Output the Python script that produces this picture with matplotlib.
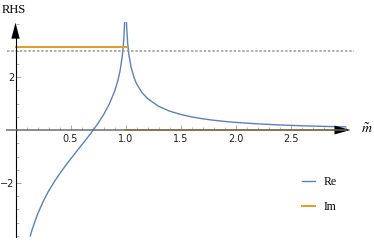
import matplotlib
matplotlib.use("Agg")
import matplotlib.pyplot as plt
from matplotlib.ticker import FixedLocator, MultipleLocator

# Werte
m_below = [0.134, 0.15, 0.2, 0.25, 0.3, 0.35, 0.4, 0.45, 0.5, 0.55, 0.6, 0.65, 0.7,
           0.75, 0.8, 0.85, 0.9, 0.93, 0.95, 0.97, 0.98, 0.985, 0.99, 0.9914]
re_below = [-4.0, -3.77, -3.18, -2.71, -2.31, -1.97, -1.66, -1.37, -1.10, -0.835, -0.575,
            -0.31, -0.04, 0.25, 0.575, 0.957, 1.45, 1.857, 2.225, 2.768, 3.19, 3.48, 3.90, 4.05]
m_above = [1.0088, 1.01, 1.02, 1.03, 1.05, 1.08, 1.1, 1.15, 1.2, 1.3, 1.4, 1.5, 1.6, 1.7,
           1.8, 1.9, 2.0, 2.2, 2.4, 2.6, 2.8, 3.0]
re_above = [4.05, 3.93, 3.25, 2.86, 2.38, 1.95, 1.75, 1.41, 1.19, 0.896, 0.714, 0.588, 0.495,
            0.425, 0.369, 0.324, 0.288, 0.232, 0.191, 0.160, 0.137, 0.118]
im_x1 = [0.0, 1.0]
im_y1 = [3.14, 3.14]
im_x2 = [1.0, 3.0]
im_y2 = [0.0, 0.0]
dashed_level = 2.98
xticks = [0.5, 1.0, 1.5, 2.0, 2.5]
yticks = [-2, 2]

blue = "#5E81B5"
orange = "#E19C24"

fig = plt.figure(figsize=(3.74, 2.44), dpi=100)
ax = fig.add_axes([0, 0, 1, 1])
ax.set_xlim(-0.141, 3.259)
ax.set_ylim(-4.302, 4.906)
ax.patch.set_visible(False)

# Kurven
ax.plot(m_below, re_below, color=blue, lw=1.0, label="Re")
ax.plot(m_above, re_above, color=blue, lw=1.0)
ax.plot(im_x1, im_y1, color=orange, lw=1.4, label="Im")
ax.plot(im_x2, im_y2, color=orange, lw=1.4)
ax.plot([-0.075, 3.08], [dashed_level, dashed_level], color="#999999", lw=1.1,
        dashes=(1.6, 1.2))

# Achsen im Mathematica-Stil
for s in ["top", "right"]:
    ax.spines[s].set_visible(False)
ax.spines["bottom"].set_position(("data", 0))
ax.spines["left"].set_position(("data", 0))
ax.spines["bottom"].set_bounds(-0.075, 3.0)
ax.spines["left"].set_bounds(-4.05, 3.5)
ax.spines["bottom"].set_color("#666666")
ax.spines["bottom"].set_alpha(0.75)
ax.spines["bottom"].set_linewidth(1.4)
ax.spines["left"].set_color("black")
ax.spines["left"].set_linewidth(0.8)
ax.spines["bottom"].set_zorder(3)

ax.xaxis.set_major_locator(FixedLocator(xticks))
ax.xaxis.set_minor_locator(FixedLocator([i / 10 for i in range(1, 31)]))
ax.yaxis.set_major_locator(FixedLocator(yticks))
ax.yaxis.set_minor_locator(MultipleLocator(0.5))
ax.tick_params(axis="both", which="major", direction="in", length=3.5, width=0.6,
               color="#999999", labelsize=7, labelcolor="#222222")
ax.tick_params(axis="both", which="minor", direction="in", length=2, width=0.5,
               color="#999999")
ax.tick_params(axis="x", pad=3)
ax.tick_params(axis="y", pad=1)
ax.set_xticklabels(["0.5", "1.0", "1.5", "2.0", "2.5"])
ax.set_yticklabels(["\u22122", "2"])

# Pfeilspitzen
ax.annotate("", xy=(3.045, 0), xytext=(2.9, 0),
            arrowprops=dict(arrowstyle="-|>,head_length=1.15,head_width=0.32",
                            color="black", lw=0, mutation_scale=10, shrinkA=0, shrinkB=0))
ax.annotate("", xy=(0, 4.05), xytext=(0, 3.3),
            arrowprops=dict(arrowstyle="-|>,head_length=1.15,head_width=0.3",
                            color="black", lw=0, mutation_scale=10, shrinkA=0, shrinkB=0))

ax.text(-0.125, 4.53, "RHS", family="Liberation Serif", fontsize=9, va="center", ha="left")
plt.rcParams["mathtext.fontset"] = "stix"
ax.text(3.14, 0.05, r"$\tilde{m}$", fontsize=10, va="center", ha="left")

fig.legend(loc="upper left", bbox_to_anchor=(296 / 374, 1 - 170 / 244), frameon=False,
           prop={"family": "Liberation Serif", "size": 8.5}, handlelength=1.1,
           handletextpad=0.7, labelspacing=1.1, borderpad=0)

fig.savefig("out.png", dpi=100)
